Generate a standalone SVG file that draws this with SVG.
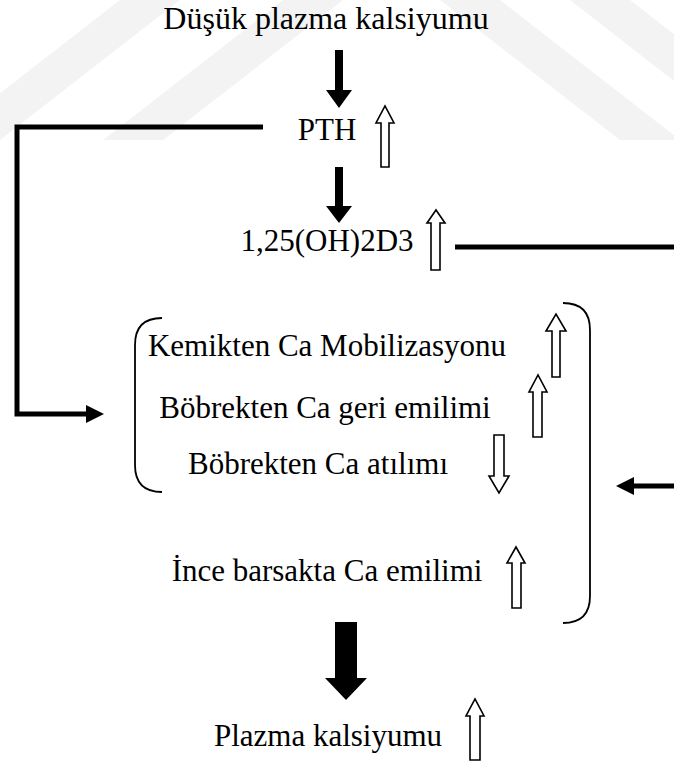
<svg xmlns="http://www.w3.org/2000/svg" width="674" height="762" viewBox="0 0 674 762">
<style>
text{font-family:"Liberation Serif","Times New Roman",serif;font-size:31px;fill:#000;text-anchor:middle}
.open{fill:#fff;stroke:#000;stroke-width:1.6;stroke-linejoin:miter}
.solid{fill:#000}
.line{fill:none;stroke:#000;stroke-width:5}
.brk{fill:none;stroke:#000;stroke-width:1.8}
.wm{fill:#f3f3f3}
</style>
<rect width="674" height="762" fill="#fff"/>
<g id="watermark">
<polygon class="wm" points="120,0 180,0 0,140 -60,140"/>
<polygon class="wm" points="283,0 343,0 163,140 103,140"/>
<polygon class="wm" points="440,0 500,0 680,140 620,140"/>
<polygon class="wm" points="570,0 630,0 810,140 750,140"/>
</g>
<g id="connectors">
<polyline class="line" points="263,127 17,127 17,414 88,414"/>
<polygon class="solid" points="86,405 104,414 86,423"/>
<line class="line" x1="455" y1="247" x2="674" y2="247"/>
<line class="line" x1="674" y1="486" x2="632" y2="486"/>
<polygon class="solid" points="634,477 616,486 634,495"/>
<polygon class="solid" points="335,50 343,50 343,90 352,90 339,108 326,90 335,90"/>
<polygon class="solid" points="335,167 343,167 343,206 352,206 339,223 326,206 335,206"/>
<polygon class="solid" points="335,622 357,622 357,678 367,678 346,700 325,678 335,678"/>
</g>
<g id="n-title"><text x="326" y="29" style="font-size:32px">Düşük plazma kalsiyumu</text></g>
<g id="n-pth">
<text x="327" y="140">PTH</text>
<polygon class="open" points="381,167 381,123 376,123 385,106 394,123 389,123 389,167"/>
</g>
<g id="n-vitd">
<text x="327" y="251">1,25(OH)2D3</text>
<polygon class="open" points="431,270 431,223 427,223 436,210 445,223 440,223 440,270"/>
</g>
<g id="n-group">
<path class="brk" d="M162,318 Q135,318 135,345 L135,465 Q135,492 162,492"/>
<path class="brk" d="M563,303 Q590,303 590,330 L590,596 Q590,623 563,623"/>
<text x="327" y="356">Kemikten Ca Mobilizasyonu</text>
<polygon class="open" points="552,377 552,331 546,331 556,314 566,331 560,331 560,377"/>
<text x="325" y="418">Böbrekten Ca geri emilimi</text>
<polygon class="open" points="533,437 533,392 529,392 538,375 547,392 542,392 542,437"/>
<text x="318" y="474">Böbrekten Ca atılımı</text>
<polygon class="open" points="494,435 504,435 504,476 509,476 499,493 489,476 494,476"/>
<text x="327" y="581">İnce barsakta Ca emilimi</text>
<polygon class="open" points="512,608 512,563 507,563 516,547 525,563 521,563 521,608"/>
</g>
<g id="n-plasma">
<text x="328" y="746">Plazma kalsiyumu</text>
<polygon class="open" points="470,760 470,716 466,716 475,699 484,716 480,716 480,760"/>
</g>
</svg>
